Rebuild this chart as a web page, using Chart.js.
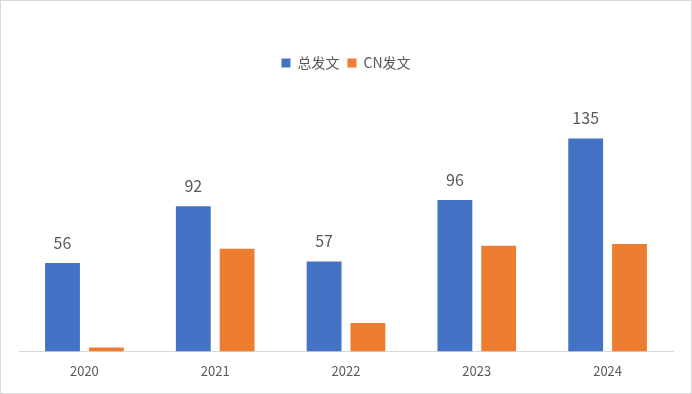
<!DOCTYPE html>
<html>
<head>
<meta charset="utf-8">
<script src="https://cdn.jsdelivr.net/npm/chart.js@4/dist/chart.umd.min.js"></script>
<style>
  body { margin: 0; background: #fff; }
  #wrap { position: relative; width: 692px; height: 394px; border: 1px solid #d9d9d9; box-sizing: border-box; background: #fff; }
</style>
</head>
<body>
<div id="wrap"><canvas id="chart"></canvas></div>
<script>
// 年份与两组发文数量
const years = ['2020', '2021', '2022', '2023', '2024'];
const totalPapers = [56, 92, 57, 96, 135];
const cnPapers = [2.5, 65, 18, 67, 68];

const textColor = '#595959';
const fontFamily = '"Noto Sans CJK SC", "Liberation Sans", sans-serif';

// 只给“总发文”柱子上方标数值
const barLabels = {
    id: 'barLabels',
    afterDatasetsDraw(chart) {
        const ctx = chart.ctx;
        const meta = chart.getDatasetMeta(0);
        ctx.save();
        ctx.fillStyle = textColor;
        ctx.font = '16px ' + fontFamily;
        ctx.textAlign = 'center';
        ctx.textBaseline = 'alphabetic';
        meta.data.forEach((bar, i) => {
            ctx.fillText(totalPapers[i], bar.x, bar.y - 14);
        });
        ctx.restore();
    }
};

new Chart(document.getElementById('chart'), {
    type: 'bar',
    data: {
        labels: years,
        datasets: [
            {
                label: '总发文',
                data: totalPapers,
                backgroundColor: '#4472C4',
                barPercentage: 0.795,
                categoryPercentage: 0.67
            },
            {
                label: 'CN发文',
                data: cnPapers,
                backgroundColor: '#ED7D31',
                barPercentage: 0.795,
                categoryPercentage: 0.67
            }
        ]
    },
    options: {
        responsive: true,
        maintainAspectRatio: false,
        animation: false,
        layout: { padding: { left: 18, right: 18, top: 47, bottom: 2 } },
        plugins: {
            legend: {
                position: 'top',
                labels: {
                    boxWidth: 9,
                    boxHeight: 9,
                    padding: 8,
                    color: textColor,
                    font: { size: 14, family: fontFamily }
                }
            },
            tooltip: { enabled: false }
        },
        scales: {
            x: {
                grid: { display: false, drawTicks: false },
                border: { display: true, color: '#d9d9d9', width: 1 },
                ticks: { color: textColor, padding: 12, font: { size: 13, family: fontFamily } }
            },
            y: {
                display: false,
                min: 0,
                max: 172
            }
        }
    },
    plugins: [barLabels]
});
</script>
</body>
</html>
